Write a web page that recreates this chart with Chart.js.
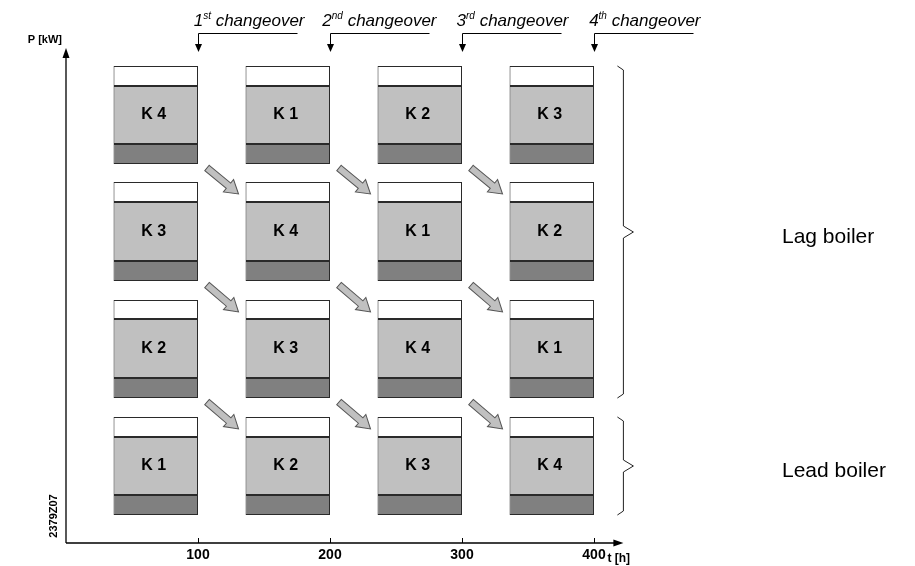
<!DOCTYPE html>
<html>
<head>
<meta charset="utf-8">
<script src="https://cdn.jsdelivr.net/npm/chart.js@4.4.0/dist/chart.umd.min.js"></script>
<style>
  html, body { margin: 0; padding: 0; background: #fff; }
  #wrap { width: 915px; height: 566px; }
</style>
</head>
<body>
<div id="wrap"><canvas id="chart"></canvas></div>
<script>
// changeover times on the t axis
const xTickValues = [100, 200, 300, 400];
// each boiler box sits just before a changeover
const columnCenters = [68, 168, 268, 368];
// P ranges of the three parts of a box, top row first
const darkPart  = [[379, 399], [262, 282], [145, 165], [28, 48]];
const lightPart = [[399, 457], [282, 341], [165, 224], [48, 106]];
const whitePart = [[457, 477], [341, 361], [224, 243], [106, 126]];
const boilerLabels = [
  ['K 4', 'K 1', 'K 2', 'K 3'],
  ['K 3', 'K 4', 'K 1', 'K 2'],
  ['K 2', 'K 3', 'K 4', 'K 1'],
  ['K 1', 'K 2', 'K 3', 'K 4']
];
const changeoverNumbers = ['1', '2', '3', '4'];
const changeoverSuffixes = ['st', 'nd', 'rd', 'th'];
const groupNames = ['Lag boiler', 'Lead boiler'];
const groupRows = [[0, 2], [3, 3]];

const FONT = '"Liberation Sans", Arial, sans-serif';

function boxPoints(part) {
  const pts = [];
  part.forEach((range) => {
    columnCenters.forEach((x) => pts.push({ x: x, y: range }));
  });
  return pts;
}

function blockArrow(ctx, x1, y1, x2, y2) {
  const ang = Math.atan2(y2 - y1, x2 - x1);
  const len = Math.hypot(x2 - x1, y2 - y1);
  const hl = 13, hw = 8, sw = 3.5;
  ctx.save();
  ctx.translate(x1, y1);
  ctx.rotate(ang);
  ctx.beginPath();
  ctx.moveTo(0, -sw);
  ctx.lineTo(len - hl, -sw);
  ctx.lineTo(len - hl, -hw);
  ctx.lineTo(len, 0);
  ctx.lineTo(len - hl, hw);
  ctx.lineTo(len - hl, sw);
  ctx.lineTo(0, sw);
  ctx.closePath();
  ctx.fillStyle = '#c0c0c0';
  ctx.fill();
  ctx.strokeStyle = '#555';
  ctx.lineWidth = 1;
  ctx.stroke();
  ctx.restore();
}

function brace(ctx, x, top, bottom) {
  const mid = (top + bottom) / 2;
  ctx.beginPath();
  ctx.moveTo(x - 6, top);
  ctx.lineTo(x, top + 4);
  ctx.lineTo(x, mid - 6);
  ctx.lineTo(x + 10, mid);
  ctx.lineTo(x, mid + 6);
  ctx.lineTo(x, bottom - 4);
  ctx.lineTo(x - 6, bottom);
  ctx.stroke();
  return mid;
}

const decor = {
  id: 'decor',
  afterDraw(chart) {
    const ctx = chart.ctx;
    const area = chart.chartArea;
    const xs = chart.scales.x;
    const dark = chart.getDatasetMeta(0).data;
    const light = chart.getDatasetMeta(1).data;
    const white = chart.getDatasetMeta(2).data;
    const top = (el) => Math.min(el.y, el.base);
    const bottom = (el) => Math.max(el.y, el.base);

    ctx.save();
    ctx.strokeStyle = '#000';
    ctx.fillStyle = '#000';
    ctx.lineWidth = 1.3;

    // axes with arrow heads
    ctx.beginPath();
    ctx.moveTo(area.left, area.bottom);
    ctx.lineTo(area.left, area.top + 6);
    ctx.moveTo(area.left, area.bottom);
    ctx.lineTo(area.right - 4, area.bottom);
    ctx.stroke();
    ctx.beginPath();
    ctx.moveTo(area.left, area.top);
    ctx.lineTo(area.left - 3.5, area.top + 10);
    ctx.lineTo(area.left + 3.5, area.top + 10);
    ctx.closePath();
    ctx.fill();
    ctx.beginPath();
    ctx.moveTo(area.right + 3, area.bottom);
    ctx.lineTo(area.right - 7, area.bottom - 3.5);
    ctx.lineTo(area.right - 7, area.bottom + 3.5);
    ctx.closePath();
    ctx.fill();

    // tick marks inside the plot
    ctx.lineWidth = 1;
    xTickValues.forEach((v) => {
      const px = Math.round(xs.getPixelForValue(v)) + 0.5;
      ctx.beginPath();
      ctx.moveTo(px, area.bottom);
      ctx.lineTo(px, area.bottom - 5);
      ctx.stroke();
    });

    // axis titles
    ctx.font = 'bold 11px ' + FONT;
    ctx.textBaseline = 'middle';
    ctx.textAlign = 'right';
    ctx.fillText('P [kW]', area.left - 4, area.top - 8);
    ctx.font = 'bold 12px ' + FONT;
    ctx.textAlign = 'left';
    ctx.fillText('t [h]', area.right - 13, area.bottom + 16);

    ctx.save();
    ctx.translate(area.left - 12, area.bottom - 27);
    ctx.rotate(-Math.PI / 2);
    ctx.font = 'bold 11px ' + FONT;
    ctx.textAlign = 'center';
    ctx.fillText('2379Z07', 0, 0);
    ctx.restore();

    // changeover markers
    ctx.lineWidth = 1;
    xTickValues.forEach((v, i) => {
      const px = Math.round(xs.getPixelForValue(v)) + 0.5;
      ctx.beginPath();
      ctx.moveTo(px + 99, 33.5);
      ctx.lineTo(px, 33.5);
      ctx.lineTo(px, 45);
      ctx.stroke();
      ctx.beginPath();
      ctx.moveTo(px, 52);
      ctx.lineTo(px - 3.5, 44);
      ctx.lineTo(px + 3.5, 44);
      ctx.closePath();
      ctx.fill();

      const big = 'italic 17px ' + FONT;
      const small = 'italic 10px ' + FONT;
      ctx.textBaseline = 'alphabetic';
      ctx.textAlign = 'left';
      ctx.font = big;
      const w1 = ctx.measureText(changeoverNumbers[i]).width;
      const w3 = ctx.measureText(' changeover').width;
      ctx.font = small;
      const w2 = ctx.measureText(changeoverSuffixes[i]).width;
      const x0 = px + 106 - (w1 + w2 + w3);
      ctx.font = big;
      ctx.fillText(changeoverNumbers[i], x0, 26);
      ctx.font = small;
      ctx.fillText(changeoverSuffixes[i], x0 + w1, 19);
      ctx.font = big;
      ctx.fillText(' changeover', x0 + w1 + w2, 26);
    });

    // diagonal arrows from each box to the next row, next changeover
    for (let r = 0; r < 3; r++) {
      for (let c = 0; c < 3; c++) {
        const a = dark[r * 4 + c];
        const b = white[(r + 1) * 4 + c + 1];
        blockArrow(ctx, a.x + a.width / 2 + 9, bottom(a) + 4,
          b.x - b.width / 2 - 7, top(b) + 12);
      }
    }

    // boiler names in the boxes
    ctx.fillStyle = '#000';
    ctx.font = 'bold 16px ' + FONT;
    ctx.textAlign = 'center';
    ctx.textBaseline = 'middle';
    light.forEach((el, i) => {
      const r = Math.floor(i / 4), c = i % 4;
      ctx.fillText(boilerLabels[r][c], el.x - 2, (el.y + el.base) / 2);
    });

    // braces and group names
    ctx.strokeStyle = '#222';
    ctx.lineWidth = 1;
    groupRows.forEach((rows, g) => {
      const t = top(white[rows[0] * 4 + 3]);
      const b = bottom(dark[rows[1] * 4 + 3]);
      const mid = brace(ctx, area.right + 3, t, b);
      ctx.font = '21px ' + FONT;
      ctx.textAlign = 'left';
      ctx.textBaseline = 'middle';
      ctx.fillText(groupNames[g], 782, mid + 5);
    });
    ctx.restore();
  }
};

const barStyle = {
  grouped: false,
  categoryPercentage: 1,
  barPercentage: 0.64,
  borderWidth: 1,
  borderColor: '#2a2a2a',
  borderSkipped: false
};

new Chart(document.getElementById('chart'), {
  type: 'bar',
  data: {
    datasets: [
      Object.assign({ label: 'base', data: boxPoints(darkPart), backgroundColor: '#808080' }, barStyle),
      Object.assign({ label: 'boiler', data: boxPoints(lightPart), backgroundColor: '#c0c0c0' }, barStyle),
      Object.assign({ label: 'reserve', data: boxPoints(whitePart), backgroundColor: '#ffffff' }, barStyle)
    ]
  },
  options: {
    responsive: true,
    maintainAspectRatio: false,
    animation: false,
    layout: { padding: { left: 66, right: 294.6, top: 48, bottom: -1.8 } },
    plugins: { legend: { display: false }, tooltip: { enabled: false } },
    scales: {
      x: {
        type: 'linear',
        min: 0,
        max: 420,
        offset: false,
        afterBuildTicks: (s) => { s.ticks = xTickValues.map((v) => ({ value: v })); },
        grid: { display: false, drawTicks: false, offset: false },
        border: { display: false },
        ticks: { color: '#000', padding: 4, font: { family: FONT, size: 14, weight: 'bold' } }
      },
      y: {
        display: false,
        min: 0,
        max: 495
      }
    }
  },
  plugins: [decor]
});
</script>
</body>
</html>
